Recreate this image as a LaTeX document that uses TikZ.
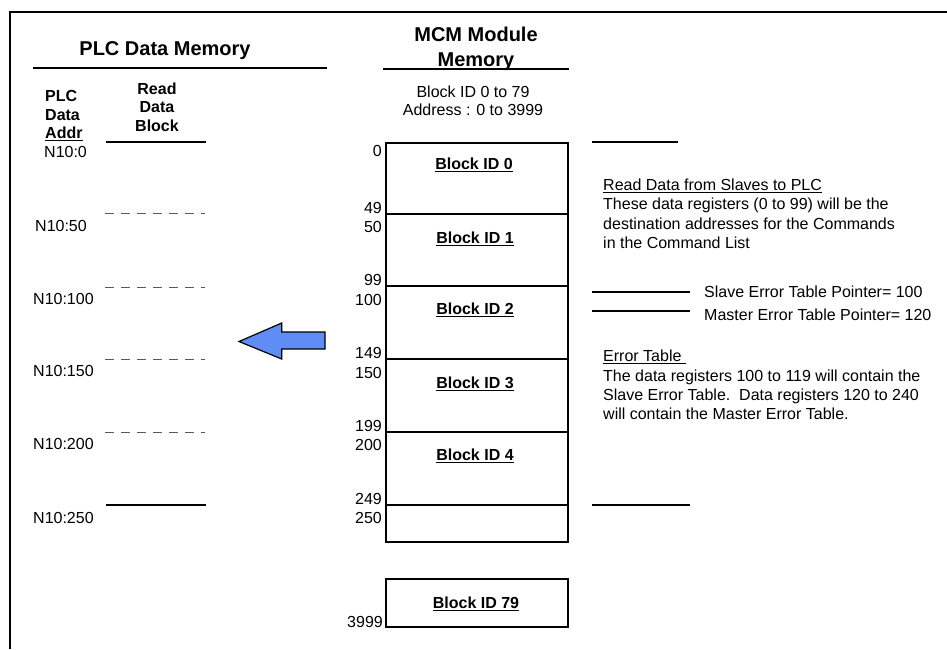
\documentclass[tikz,border=0pt]{standalone}
\usepackage{fontspec}
\setmainfont{Liberation Sans}
\newcommand{\myul}[1]{\setbox0\hbox{#1}\rlap{\rule[-3pt]{\wd0}{1.3pt}}\box0}
\definecolor{arrowblue}{RGB}{95,140,245}
\tikzset{
  txt/.style={inner sep=0pt, font=\fontsize{16}{19.5}\selectfont},
  btxt/.style={inner sep=0pt, font=\fontsize{16}{18.5}\selectfont\bfseries},
  ttl/.style={inner sep=0pt, font=\fontsize{20}{24}\selectfont\bfseries},
  rule/.style={line width=1.5pt},
  dashln/.style={line width=1pt, draw=black!65, dash pattern=on 9pt off 7pt},
  memline/.style={line width=1.6pt}
}
\begin{document}
\begin{tikzpicture}[x=1pt,y=-1pt]
\useasboundingbox (0,0) rectangle (947,649);
% frame
\coordinate (fbl) at (10,649);
\coordinate (ftl) at (10,12);
\coordinate (ftr) at (947,12);
\draw[line width=2pt] (fbl) -- (ftl) -- (ftr);

% ---------- PLC side ----------
\node[ttl, anchor=base] (plctitle) at (165,55) {PLC Data Memory};
\coordinate (pr1) at (33,68); \coordinate (pr2) at (327,68);
\draw[rule] (pr1) -- (pr2);

\node[btxt, anchor=base west] (h1) at (45,101) {PLC};
\node[btxt, anchor=base west] (h2) at (45,120) {Data};
\node[btxt, anchor=base west] (h3) at (45,138) {\myul{Addr}};
\node[btxt, anchor=base] (r1) at (157,94) {Read};
\node[btxt, anchor=base] (r2) at (157,112.5) {Data};
\node[btxt, anchor=base] (r3) at (157,131) {Block};
\coordinate (rb1) at (106,142); \coordinate (rb2) at (206,142);
\draw[line width=2.2pt] (rb1) -- (rb2);

\node[txt, anchor=base west] (n0) at (44,157) {N10:0};
\node[txt, anchor=base west] (n50) at (35,231) {N10:50};
\node[txt, anchor=base west] (n100) at (33,304) {N10:100};
\node[txt, anchor=base west] (n150) at (33,376) {N10:150};
\node[txt, anchor=base west] (n200) at (33,449) {N10:200};
\node[txt, anchor=base west] (n250) at (33,523) {N10:250};

\foreach \yy/\nm in {213/a,287/b,359/c,432/d}{
  \coordinate (dl\nm) at (105,\yy); \coordinate (dr\nm) at (205,\yy);
  \draw[dashln] (dl\nm) -- (dr\nm);
}
\coordinate (sl) at (106,505); \coordinate (sr) at (206,505);
\draw[rule] (sl) -- (sr);

% arrow
\coordinate (at) at (239,341.5);
\draw[line width=1.2pt, fill=arrowblue, line join=miter]
  (at) -- (281.7,323) -- (281.7,332) -- (325,332) -- (325,349) -- (281.7,349) -- (281.7,359) -- cycle;

% ---------- MCM side ----------
\node[ttl, anchor=base] (mcm1) at (476,41) {MCM Module};
\node[ttl, anchor=base] (mcm2) at (476,66) {Memory};
\coordinate (mr1) at (383,69); \coordinate (mr2) at (569,69);
\draw[rule] (mr1) -- (mr2);
\node[txt, anchor=base] (sub1) at (473,97) {Block ID 0 to 79};
\node[txt, anchor=base] (sub2) at (473,115) {Address : 0 to 3999};

% memory box
\coordinate (bx1) at (386,143);
\coordinate (bx2) at (568,542);
\draw[memline] (bx1) rectangle (bx2);
\foreach \yy/\nm in {214/a,286/b,359/c,432/d,505/e}{
  \coordinate (ml\nm) at (386,\yy); \coordinate (mr\nm) at (568,\yy);
  \draw[memline] (ml\nm) -- (mr\nm);
}
\coordinate (bz1) at (386,579);
\coordinate (bz2) at (568,627);
\draw[memline] (bz1) rectangle (bz2);

% address numbers
\node[txt, anchor=base east] (a0) at (382,156) {0};
\node[txt, anchor=base east] (a49) at (382,213.5) {49};
\node[txt, anchor=base east] (a50) at (382,232) {50};
\node[txt, anchor=base east] (a99) at (382,285.5) {99};
\node[txt, anchor=base east] (a100) at (382,305) {100};
\node[txt, anchor=base east] (a149) at (382,358.5) {149};
\node[txt, anchor=base east] (a150) at (382,378) {150};
\node[txt, anchor=base east] (a199) at (382,431.5) {199};
\node[txt, anchor=base east] (a200) at (382,450) {200};
\node[txt, anchor=base east] (a249) at (382,504.5) {249};
\node[txt, anchor=base east] (a250) at (382,523) {250};
\node[txt, anchor=base east] (a3999) at (383,627) {3999};

% block labels
\node[btxt, anchor=base] (b0) at (474,169) {\myul{Block ID 0}};
\node[btxt, anchor=base] (b1) at (475,243) {\myul{Block ID 1}};
\node[btxt, anchor=base] (b2) at (475,314) {\myul{Block ID 2}};
\node[btxt, anchor=base] (b3) at (475,388) {\myul{Block ID 3}};
\node[btxt, anchor=base] (b4) at (475,460) {\myul{Block ID 4}};
\node[btxt, anchor=base] (b79) at (476,608) {\myul{Block ID 79}};

% ---------- right notes ----------
\coordinate (t1) at (592,142); \coordinate (t2) at (678,142);
\draw[rule] (t1) -- (t2);
\coordinate (s1) at (592,292); \coordinate (s2) at (690,292);
\draw[rule] (s1) -- (s2);
\coordinate (m1) at (592,311); \coordinate (m2) at (690,311);
\draw[rule] (m1) -- (m2);
\coordinate (e1) at (592,505); \coordinate (e2) at (690,505);
\draw[rule] (e1) -- (e2);

\node[txt, anchor=base west] (sp) at (704,297) {Slave Error Table Pointer= 100};
\node[txt, anchor=base west] (mp) at (704,320) {Master Error Table Pointer= 120};

\node[txt, anchor=base west] (rd1) at (603,190) {\myul{Read Data from Slaves to PLC}};
\node[txt, anchor=base west] (rd2) at (603,209.5) {These data registers (0 to 99) will be the};
\node[txt, anchor=base west] (rd3) at (603,229) {destination addresses for the Commands};
\node[txt, anchor=base west] (rd4) at (603,248.5) {in the Command List};

\node[txt, anchor=base west] (et1) at (603,361) {\myul{Error Table\ }};
\node[txt, anchor=base west] (et2) at (603,381) {The data registers 100 to 119 will contain the};
\node[txt, anchor=base west] (et3) at (603,400) {Slave Error Table.\ \ Data registers 120 to 240};
\node[txt, anchor=base west] (et4) at (603,419.5) {will contain the Master Error Table.};
\end{tikzpicture}
\end{document}
